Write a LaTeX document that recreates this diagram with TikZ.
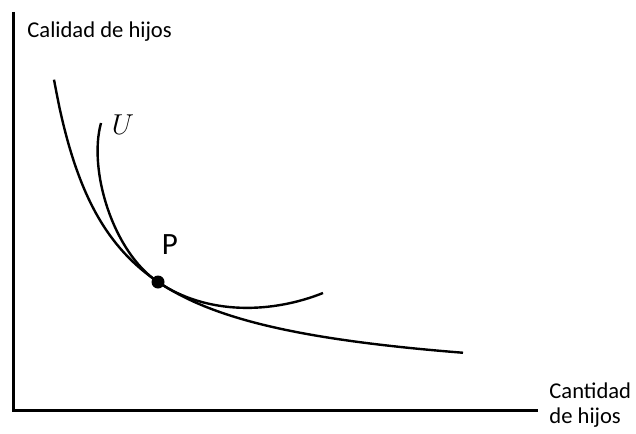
\documentclass[tikz,border=0pt]{standalone}
\usepackage{fontspec}
\setmainfont{Carlito}
\usepackage{tikz}
\usetikzlibrary{positioning}

\begin{document}
\begin{tikzpicture}[
    x=0.5pt, y=-0.5pt,
    axis/.style={line width=1.5pt, line join=miter},
    curve/.style={line width=1.2pt},
    axlabel/.style={font=\fontsize{11.3}{12.5}\selectfont, inner sep=0pt, align=left},
    dot/.style={circle, fill=black, inner sep=0pt, minimum size=6.5pt}
]
\useasboundingbox (0,0) rectangle (636,433);

% Axes
\coordinate (ytop) at (13,12);
\coordinate (origin) at (13,410);
\coordinate (xend) at (538,410);
\draw[axis] (ytop) -- (origin) -- (xend);

\node[axlabel, anchor=west] (ylab) at (27,32) {Calidad de hijos};
\node[axlabel, anchor=west] (xlab) at (549,405) {Cantidad\\de hijos};

% Restriction curve
\draw[curve] plot[domain=54:463, samples=80, smooth]
    (\x, {389.8 - 172/((\x+1.5)*0.01)});

% Indifference curve, tangent at P
\coordinate (P) at (158,282);
\coordinate (ustart) at (101,123);
\coordinate (uend) at (323,293);
\draw[curve] (ustart) .. controls (88,170) and (113,252) .. (P)
                      .. controls (208,316) and (273,313) .. (uend);

\node[dot] (pdot) at (P) {};
\node[font=\fontsize{15.5}{18}\selectfont, inner sep=0pt] (plab) at (170,245) {P};
\node[font=\fontsize{14.5}{17}\selectfont, inner sep=0pt] (ulab) at (123,125) {$U$};

\end{tikzpicture}
\end{document}
